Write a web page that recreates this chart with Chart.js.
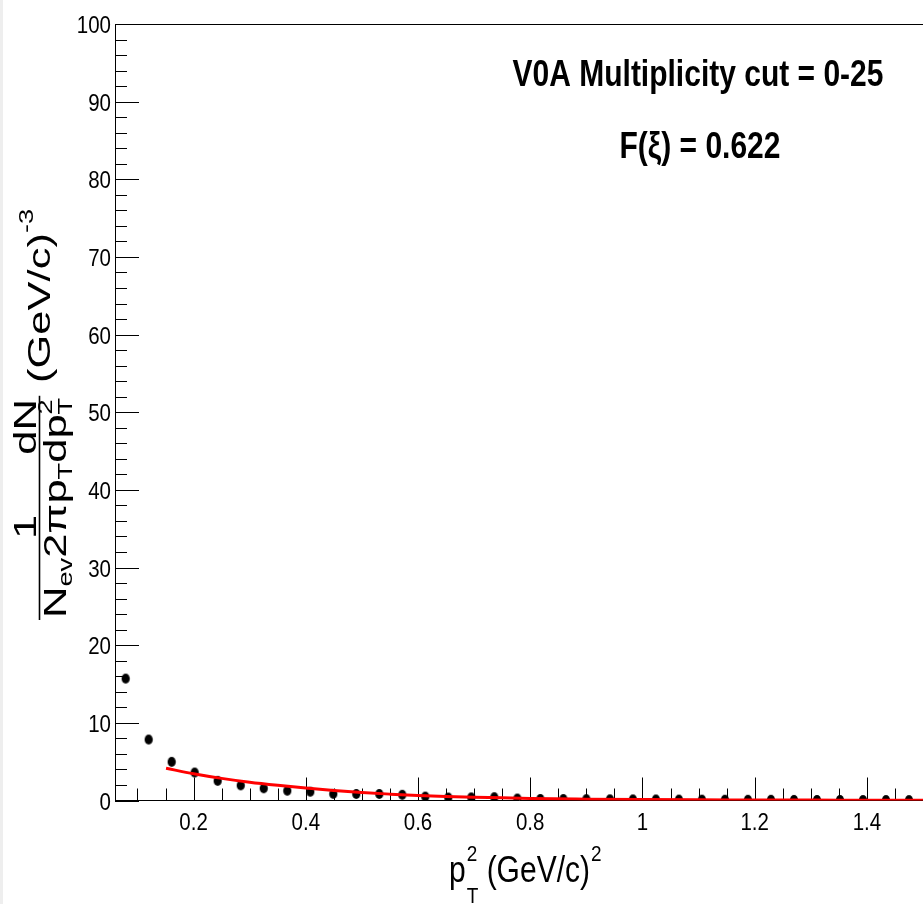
<!DOCTYPE html>
<html>
<head>
<meta charset="utf-8">
<script src="https://cdn.jsdelivr.net/npm/chart.js@4.4.1/dist/chart.umd.min.js"></script>
<style>
  html, body { margin: 0; padding: 0; background: #ffffff; }
  canvas { display: block; }
</style>
</head>
<body>
<canvas id="c" width="923" height="904"></canvas>
<script>
// p_T^2 bin centres, (GeV/c)^2
const pt2 = [0.079, 0.120, 0.161, 0.202, 0.243, 0.284, 0.325, 0.367, 0.408, 0.449,
             0.490, 0.531, 0.572, 0.613, 0.654, 0.695, 0.736, 0.777, 0.818, 0.859,
             0.900, 0.942, 0.983, 1.024, 1.065, 1.106, 1.147, 1.188, 1.229, 1.270,
             1.311, 1.352, 1.393, 1.434, 1.475];
// invariant yield in each bin, (GeV/c)^-3
const yieldVals = [15.7, 7.85, 4.98, 3.60, 2.53, 1.95, 1.57, 1.26, 1.13, 0.86,
                   0.84, 0.84, 0.74, 0.50, 0.38, 0.40, 0.42, 0.25, 0.20, 0.19,
                   0.17, 0.15, 0.14, 0.13, 0.12, 0.11, 0.10, 0.09, 0.09, 0.08,
                   0.07, 0.07, 0.06, 0.06, 0.05];
// fitted function, sampled along p_T^2
const fitPt2 = [0.151, 0.20, 0.25, 0.30, 0.35, 0.40, 0.45, 0.50, 0.55, 0.60,
                0.65, 0.70, 0.75, 0.80, 0.90, 1.00, 1.10, 1.20, 1.30, 1.40, 1.50];
const fitVals = [4.15, 3.45, 2.85, 2.35, 1.95, 1.60, 1.30, 1.03, 0.82, 0.64,
                 0.52, 0.43, 0.34, 0.25, 0.17, 0.12, 0.09, 0.07, 0.05, 0.04, 0.03];
// labelled axis divisions
const xMajorTicks = [0.2, 0.4, 0.6, 0.8, 1, 1.2, 1.4];
const yMajorTicks = [0, 10, 20, 30, 40, 50, 60, 70, 80, 90, 100];
// annotation lines in the upper right
const infoLines = ['V0A Multiplicity cut = 0-25', 'F(\u03BE) = 0.622'];

const FONT = '"Liberation Sans", Arial, Helvetica, sans-serif';
const SY = 1.2;   // tall, narrow lettering of the horizontal labels

// filled marker, slightly taller than wide
const dot = document.createElement('canvas');
dot.width = 10; dot.height = 12;
(function () {
  const d = dot.getContext('2d');
  d.fillStyle = '#000000';
  d.beginPath();
  d.ellipse(5, 6, 4.1, 5.1, 0, 0, Math.PI * 2);
  d.fill();
})();

const near = (list, v) => list.some(t => Math.abs(t - v) < 1e-9);

// text running upwards; (x, y) is the baseline start on screen
function rotText(ctx, str, y, x, size, sx, weight) {
  ctx.save();
  ctx.font = (weight || '') + ' ' + size + 'px ' + FONT;
  ctx.translate(x, y);
  ctx.rotate(-Math.PI / 2);
  ctx.scale(sx, 1);
  ctx.textBaseline = 'alphabetic';
  ctx.textAlign = 'left';
  ctx.fillStyle = '#000000';
  ctx.fillText(str, 0, 0);
  const w = ctx.measureText(str).width * sx;
  ctx.restore();
  return w;
}

// horizontal text, stretched vertically by sy
function tallText(ctx, str, x, y, size, sy, align, weight) {
  ctx.save();
  ctx.font = (weight || '') + ' ' + size + 'px ' + FONT;
  ctx.translate(x, y);
  ctx.scale(1, sy);
  ctx.textBaseline = 'alphabetic';
  ctx.textAlign = align || 'left';
  ctx.fillStyle = '#000000';
  ctx.fillText(str, 0, 0);
  const w = ctx.measureText(str).width;
  ctx.restore();
  return w;
}

const frameDecor = {
  id: 'frameDecor',
  beforeDatasetsDraw(chart) {
    const ctx = chart.ctx, a = chart.chartArea;
    const xs = chart.scales.x, ys = chart.scales.y;
    ctx.save();
    ctx.strokeStyle = '#000000';
    ctx.lineWidth = 1;
    ctx.beginPath();
    // top edge of the frame
    ctx.moveTo(a.left, Math.round(a.top) + 0.5);
    ctx.lineTo(a.right, Math.round(a.top) + 0.5);
    // inward tick marks on the x axis
    xs.ticks.forEach(t => {
      const px = Math.round(xs.getPixelForValue(t.value)) + 0.5;
      const len = near(xMajorTicks, t.value) ? 23 : 12;
      ctx.moveTo(px, a.bottom);
      ctx.lineTo(px, a.bottom - len);
    });
    // inward tick marks on the y axis
    ys.ticks.forEach(t => {
      const py = Math.round(ys.getPixelForValue(t.value)) + 0.5;
      const len = near(yMajorTicks, t.value) ? 24 : 12;
      ctx.moveTo(a.left, py);
      ctx.lineTo(a.left + len, py);
    });
    ctx.stroke();

    // tick labels at the scale positions
    const fs = 20.5;
    xs.ticks.forEach(t => {
      if (!t.label) return;
      tallText(ctx, t.label, xs.getPixelForValue(t.value), 830, fs, SY, 'center');
    });
    ys.ticks.forEach(t => {
      if (!t.label) return;
      tallText(ctx, t.label, a.left - 4, ys.getPixelForValue(t.value) + 9, fs, SY, 'right');
    });
    ctx.restore();
  },
  afterDraw(chart) {
    const ctx = chart.ctx;
    ctx.save();
    // thin grey margin at the left edge
    ctx.fillStyle = '#eeeeee';
    ctx.fillRect(0, 0, 3, chart.height);

    // annotation block
    tallText(ctx, infoLines[0], 698, 86, 30, SY, 'center', 'bold');
    tallText(ctx, infoLines[1], 700, 158, 30, SY, 'center', 'bold');

    // x-axis title: p_T^2 (GeV/c)^2
    let x = 449;
    x += tallText(ctx, 'p', x, 882, 30, SY);
    const s1 = tallText(ctx, '2', x + 1, 861, 19, SY);
    const s2 = tallText(ctx, 'T', x + 1, 903, 19, SY);
    x += Math.max(s1, s2) + 1;
    x += tallText(ctx, ' (GeV/c)', x, 882, 30, SY);
    tallText(ctx, '2', x + 1, 861, 19, SY);

    // y-axis title: 1/(N_ev 2 pi p_T) dN/dp_T^2 (GeV/c)^-3
    const S = 1.36;
    let y = 618;
    y -= rotText(ctx, 'N', y, 66, 32, S);
    y -= rotText(ctx, 'ev', y, 72, 20, S);
    y -= rotText(ctx, '2\u03C0', y, 66, 32, S);
    y -= rotText(ctx, 'p', y, 66, 32, S);
    y -= rotText(ctx, 'T', y, 72, 20, S);
    y -= rotText(ctx, 'dp', y, 66, 32, S);
    const a1 = rotText(ctx, '2', y, 52, 20, S);
    const a2 = rotText(ctx, 'T', y, 72, 20, S);
    const denomEnd = y - Math.max(a1, a2);

    ctx.font = '32px ' + FONT;
    const w1 = ctx.measureText('1').width * S;
    rotText(ctx, '1', 527 + w1 / 2, 36, 32, S);
    const wdN = ctx.measureText('dN').width * S;
    rotText(ctx, 'dN', 427 + wdN / 2, 36, 32, S);

    ctx.strokeStyle = '#000000';
    ctx.lineWidth = 1.6;
    ctx.beginPath();
    ctx.moveTo(39.5, 620);
    ctx.lineTo(39.5, denomEnd - 2);
    ctx.stroke();

    let yu = 383;
    yu -= rotText(ctx, '(GeV/c)', yu, 50, 32, S);
    rotText(ctx, '-3', yu, 33, 20, S);
    ctx.restore();
  }
};

new Chart(document.getElementById('c'), {
  data: {
    datasets: [
      {
        type: 'line',
        label: 'fit',
        data: fitPt2.map((v, i) => ({ x: v, y: fitVals[i] })),
        borderColor: '#ff0000',
        borderWidth: 3,
        pointRadius: 0,
        fill: false,
        cubicInterpolationMode: 'monotone',
        order: 0
      },
      {
        type: 'scatter',
        label: 'data',
        data: pt2.map((v, i) => ({ x: v, y: yieldVals[i] })),
        pointStyle: dot,
        pointRadius: 4,
        order: 1
      }
    ]
  },
  options: {
    responsive: false,
    animation: false,
    devicePixelRatio: 1,
    layout: { autoPadding: false, padding: { top: 24, right: 0, bottom: 0, left: 0 } },
    plugins: {
      legend: { display: false },
      tooltip: { enabled: false },
      title: { display: false }
    },
    scales: {
      x: {
        type: 'linear',
        min: 0.06,
        max: 1.5,
        grid: { display: false },
        border: { display: true, color: '#000000', width: 1 },
        ticks: {
          display: false,
          stepSize: 0.05,
          includeBounds: false,
          autoSkip: false,
          callback: v => near(xMajorTicks, v) ? String(Math.round(v * 10) / 10) : ''
        },
        afterFit: s => {
          s.height = 103.5;
          s.paddingLeft = 0; s.paddingRight = 0;
        }
      },
      y: {
        type: 'linear',
        min: 0,
        max: 100,
        grid: { display: false },
        border: { display: true, color: '#000000', width: 1 },
        ticks: {
          display: false,
          stepSize: 2,
          autoSkip: false,
          callback: v => near(yMajorTicks, v) ? String(Math.round(v)) : ''
        },
        afterFit: s => {
          s.width = 115;
          s.paddingTop = 0; s.paddingBottom = 0;
        }
      }
    }
  },
  plugins: [frameDecor]
});
</script>
</body>
</html>
